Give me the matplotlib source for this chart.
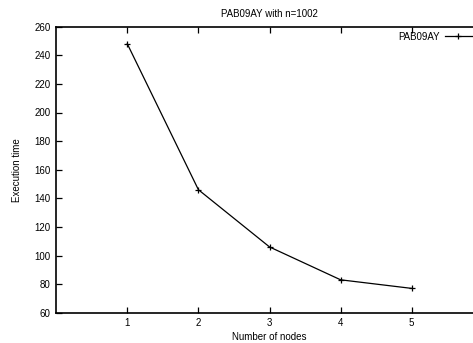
import matplotlib
matplotlib.use('Agg')
import matplotlib.pyplot as plt

plt.rcParams['font.family'] = ['Liberation Sans', 'DejaVu Sans']
plt.rcParams['font.size'] = 7

# data
nodes = [1, 2, 3, 4, 5]
exec_time = [248, 146, 106, 83, 77]
series_name = 'PAB09AY'
xticks = [1, 2, 3, 4, 5]
yticks = [60, 80, 100, 120, 140, 160, 180, 200, 220, 240, 260]

W, H = 473, 343
fig = plt.figure(figsize=(W / 100, H / 100), dpi=100)
# axes runs past the right edge of the image, like the original gnuplot output
ax = fig.add_axes([56.2 / W, 1 - 312.7 / H, (482.8 - 56.2) / W, (312.7 - 26.7) / H])

ax.plot(nodes, exec_time, color='black', linewidth=0.9, marker='+',
        markersize=4.5, markeredgewidth=0.9, label=series_name)

ax.set_xlim(0, 6)
ax.set_ylim(60, 260)
ax.set_xticks(xticks)
ax.set_yticks(yticks)
ax.tick_params(direction='in', length=4, width=0.9, top=True, right=True,
               labelsize=7, pad=4)
for key in ax.spines:
    ax.spines[key].set_linewidth(1.2)

ax.set_title('PAB09AY with n=1002', fontsize=7, pad=7)
ax.set_xlabel('Number of nodes', fontsize=7, labelpad=3)
ax.set_ylabel('Execution time', fontsize=7, labelpad=9)

ax.legend(loc='upper right', bbox_to_anchor=(472 / W, 1 - 31.5 / H),
          bbox_transform=fig.transFigure, frameon=False, markerfirst=False,
          handlelength=2.8, handletextpad=0.5, borderpad=0, borderaxespad=0,
          fontsize=7)

fig.savefig('out.png', dpi=100)
